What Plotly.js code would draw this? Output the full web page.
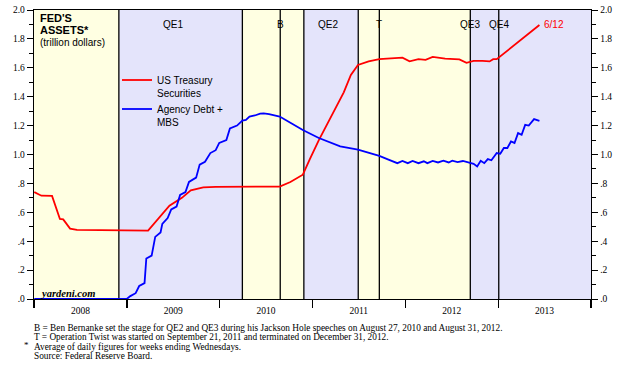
<!DOCTYPE html>
<html>
<head>
<meta charset="utf-8">
<script src="https://cdn.plot.ly/plotly-3.0.1.min.js"></script>
<style>html,body{margin:0;padding:0;background:#fff;}#chart{width:630px;height:371px;}</style>
</head>
<body>
<div id="chart"></div>
<script>
// ---- Data ----
const treasuryDates = ['2008-01-02','2008-01-30','2008-03-12','2008-03-31','2008-04-12','2008-04-25','2008-05-09','2008-05-22','2008-06-18','2008-11-05','2009-03-25','2009-06-17','2009-08-05','2009-09-09','2009-10-28','2009-12-16','2010-08-25','2010-10-06','2010-11-24','2010-12-22','2011-01-26','2011-05-04','2011-06-01','2011-06-29','2011-08-10','2011-09-21','2011-11-23','2011-12-21','2012-01-18','2012-02-22','2012-03-21','2012-04-18','2012-06-06','2012-08-01','2012-08-29','2012-09-26','2012-10-31','2012-11-28','2012-12-12','2012-12-26','2013-06-12'];
const treasuryValues = [0.74,0.715,0.713,0.618,0.554,0.551,0.515,0.487,0.478,0.476,0.473,0.646,0.70,0.752,0.772,0.776,0.778,0.81,0.86,0.97,1.10,1.43,1.55,1.62,1.645,1.66,1.665,1.67,1.645,1.66,1.655,1.675,1.663,1.658,1.634,1.648,1.648,1.644,1.66,1.66,1.896];

const mbsDates = ['2008-01-02','2008-12-31','2009-01-14','2009-02-04','2009-02-18','2009-03-11','2009-03-18','2009-04-08','2009-04-22','2009-05-13','2009-05-20','2009-06-10','2009-06-24','2009-07-15','2009-07-29','2009-08-19','2009-09-02','2009-09-30','2009-10-14','2009-11-04','2009-11-25','2009-12-16','2009-12-30','2010-01-27','2010-02-10','2010-03-10','2010-03-31','2010-04-14','2010-04-28','2010-05-19','2010-06-09','2010-06-23','2010-07-14','2010-08-25','2010-10-06','2010-11-24','2011-01-26','2011-04-20','2011-06-29','2011-09-21','2011-10-27','2011-12-01','2011-12-21','2012-01-11','2012-01-30','2012-02-22','2012-03-14','2012-03-28','2012-04-18','2012-05-09','2012-05-30','2012-06-20','2012-07-04','2012-07-25','2012-08-15','2012-09-12','2012-09-26','2012-10-10','2012-10-24','2012-11-07','2012-11-21','2012-12-05','2012-12-26','2013-01-09','2013-01-23','2013-02-06','2013-02-20','2013-03-06','2013-03-20','2013-04-03','2013-04-17','2013-05-01','2013-05-22','2013-06-12'];
const mbsValues = [0,0,0.02,0.04,0.09,0.11,0.28,0.30,0.43,0.46,0.52,0.56,0.62,0.64,0.72,0.74,0.81,0.84,0.93,0.95,1.01,1.03,1.08,1.10,1.18,1.20,1.235,1.24,1.263,1.27,1.283,1.285,1.28,1.263,1.22,1.17,1.114,1.056,1.033,0.99,0.965,0.94,0.955,0.94,0.955,0.94,0.953,0.94,0.955,0.945,0.957,0.945,0.957,0.947,0.955,0.94,0.935,0.917,0.957,0.94,0.968,0.96,1.01,1.005,1.045,1.045,1.09,1.08,1.148,1.136,1.205,1.20,1.245,1.233];

// program periods (start, end, kind)
const periodStarts = ['2008-01-01','2008-11-30','2010-03-31','2010-11-28','2011-06-30','2012-09-13'];
const periodEnds   = ['2008-11-30','2010-03-31','2010-11-28','2011-06-30','2012-09-13','2014-01-01'];
const periodKinds  = ['none','qe','none','qe','none','qe'];
// event marker lines
const eventDates = ['2008-11-30','2010-03-31','2010-08-27','2010-11-28','2011-06-30','2011-09-21','2012-09-13','2013-01-03'];
// top labels
const labelTexts = ['QE1','B','QE2','T','QE3','QE4'];
const labelDates = ['2009-07-01','2010-08-27','2011-03-02','2011-09-21','2012-09-13','2013-01-03'];

// x axis: year labels centred in each year
const yearLabelDates = ['2008-07-02','2009-07-02','2010-07-02','2011-07-02','2012-07-02','2013-07-02'];
const yearLabels = ['2008','2009','2010','2011','2012','2013'];

const yTickVals = [0,0.2,0.4,0.6,0.8,1.0,1.2,1.4,1.6,1.8,2.0];
const yTickText = ['.0','.2','.4','.6','.8','1.0','1.2','1.4','1.6','1.8','2.0'];

const footnotes = [
 'B = Ben Bernanke set the stage for QE2 and QE3 during his Jackson Hole speeches on August 27, 2010 and August 31, 2012.',
 'T = Operation Twist was started on September 21, 2011 and terminated on December 31, 2012.',
 'Average of daily figures for weeks ending Wednesdays.',
 'Source: Federal Reserve Board.'
];

// ---- Styles ----
const SERIF = 'Liberation Serif, Times New Roman, serif';
const SANS = 'Liberation Sans, Arial, sans-serif';
const YELLOW = '#FFFFE2';
const LAVENDER = '#E4E4FB';

const W = 630, H = 371, ML = 34, MR = 39, MT = 10, MB = 72;
const PW = W - ML - MR, PH = H - MT - MB;
const px = x => (x - ML) / PW;
const py = y => (H - MB - y) / PH;

const shapes = [];
periodStarts.forEach((s, i) => {
  shapes.push({type:'rect', xref:'x', yref:'paper', x0:s, x1:periodEnds[i], y0:0, y1:1,
    fillcolor: periodKinds[i] === 'qe' ? LAVENDER : YELLOW, line:{width:0}, layer:'below'});
});
eventDates.forEach(d => {
  shapes.push({type:'line', xref:'x', yref:'paper', x0:d, x1:d, y0:0, y1:1,
    line:{color:'#000', width:1.3}, layer:'below'});
});

const annotations = [];
labelTexts.forEach((t, i) => {
  annotations.push({text:t, x:labelDates[i], xref:'x', y:py(24.5), yref:'paper', showarrow:false,
    xanchor:'center', yanchor:'middle', font:{family:SANS, size:10, color:'#000'}});
});
annotations.push({text:'6/12', x:'2013-06-24', xref:'x', y:1.9, yref:'y', showarrow:false,
  xanchor:'left', yanchor:'middle', font:{family:SANS, size:10, color:'#FF0000'}});
annotations.push({text:"<b>FED'S</b>", x:px(39), xref:'paper', y:py(18), yref:'paper', showarrow:false,
  xanchor:'left', yanchor:'middle', borderpad:0, font:{family:SANS, size:11, color:'#000'}});
annotations.push({text:"<b>ASSETS*</b>", x:px(39), xref:'paper', y:py(30.5), yref:'paper', showarrow:false,
  xanchor:'left', yanchor:'middle', borderpad:0, font:{family:SANS, size:11, color:'#000'}});
annotations.push({text:'(trillion dollars)', x:px(39), xref:'paper', y:py(43), yref:'paper', showarrow:false,
  xanchor:'left', yanchor:'middle', borderpad:0, font:{family:SANS, size:10, color:'#000'}});
annotations.push({text:'<b><i>yardeni.com</i></b>', x:px(38), xref:'paper', y:py(293), yref:'paper', showarrow:false,
  xanchor:'left', yanchor:'middle', font:{family:SERIF, size:10.5, color:'#000'}});

footnotes.forEach((t, i) => {
  annotations.push({text:t, x:px(33), xref:'paper', y:py(328 + i*9.3), yref:'paper', showarrow:false,
    xanchor:'left', yanchor:'middle', borderpad:0, font:{family:SERIF, size:9.3, color:'#000'}});
});
annotations.push({text:'*', x:px(23), xref:'paper', y:py(345), yref:'paper', showarrow:false,
  xanchor:'left', yanchor:'middle', borderpad:0, font:{family:SERIF, size:9, color:'#000'}});

const traces = [
  {x:treasuryDates, y:treasuryValues, type:'scatter', mode:'lines', name:'US Treasury<br>Securities',
   line:{color:'#FF0000', width:1.8}, yaxis:'y'},
  {x:mbsDates, y:mbsValues, type:'scatter', mode:'lines', name:'Agency Debt +<br>MBS',
   line:{color:'#0000FF', width:1.8}, yaxis:'y2'}
];

const yCommon = {
  range:[0,2], tickmode:'array', tickvals:yTickVals, ticktext:yTickText,
  ticks:'outside', ticklen:6, tickwidth:1, tickcolor:'#000',
  minor:{dtick:0.1, tick0:0, ticks:'outside', ticklen:4, tickcolor:'#000', tickwidth:1},
  showgrid:false, zeroline:false, showline:true, linecolor:'#000', linewidth:1.3,
  tickfont:{family:SERIF, size:9.5, color:'#000'}, fixedrange:true
};

const layout = {
  width:W, height:H,
  margin:{l:ML, r:MR, t:MT, b:MB, pad:0},
  paper_bgcolor:'#fff', plot_bgcolor:'#fff',
  showlegend:true,
  legend:{x:px(117), xanchor:'left', y:py(67), yanchor:'top', bgcolor:'rgba(0,0,0,0)', borderwidth:0,
    font:{family:SANS, size:10, color:'#000'}, valign:'top', itemwidth:30},
  xaxis:{type:'date', range:['2008-01-01','2014-01-01'], tickmode:'array',
    tickvals:yearLabelDates, ticktext:yearLabels, ticks:'', ticklabelstandoff:2,
    minor:{dtick:'M12', tick0:'2008-01-01', ticks:'outside', ticklen:8, tickcolor:'#000', tickwidth:1.3, showgrid:false},
    showgrid:false, zeroline:false, showline:true, mirror:true, linecolor:'#000', linewidth:1.3,
    tickfont:{family:SERIF, size:9.5, color:'#000'}},
  yaxis:Object.assign({}, yCommon, {side:'left'}),
  yaxis2:Object.assign({}, yCommon, {side:'right', overlaying:'y'}),
  shapes:shapes, annotations:annotations
};

Plotly.newPlot('chart', traces, layout, {displayModeBar:false, staticPlot:true});
</script>
</body>
</html>
